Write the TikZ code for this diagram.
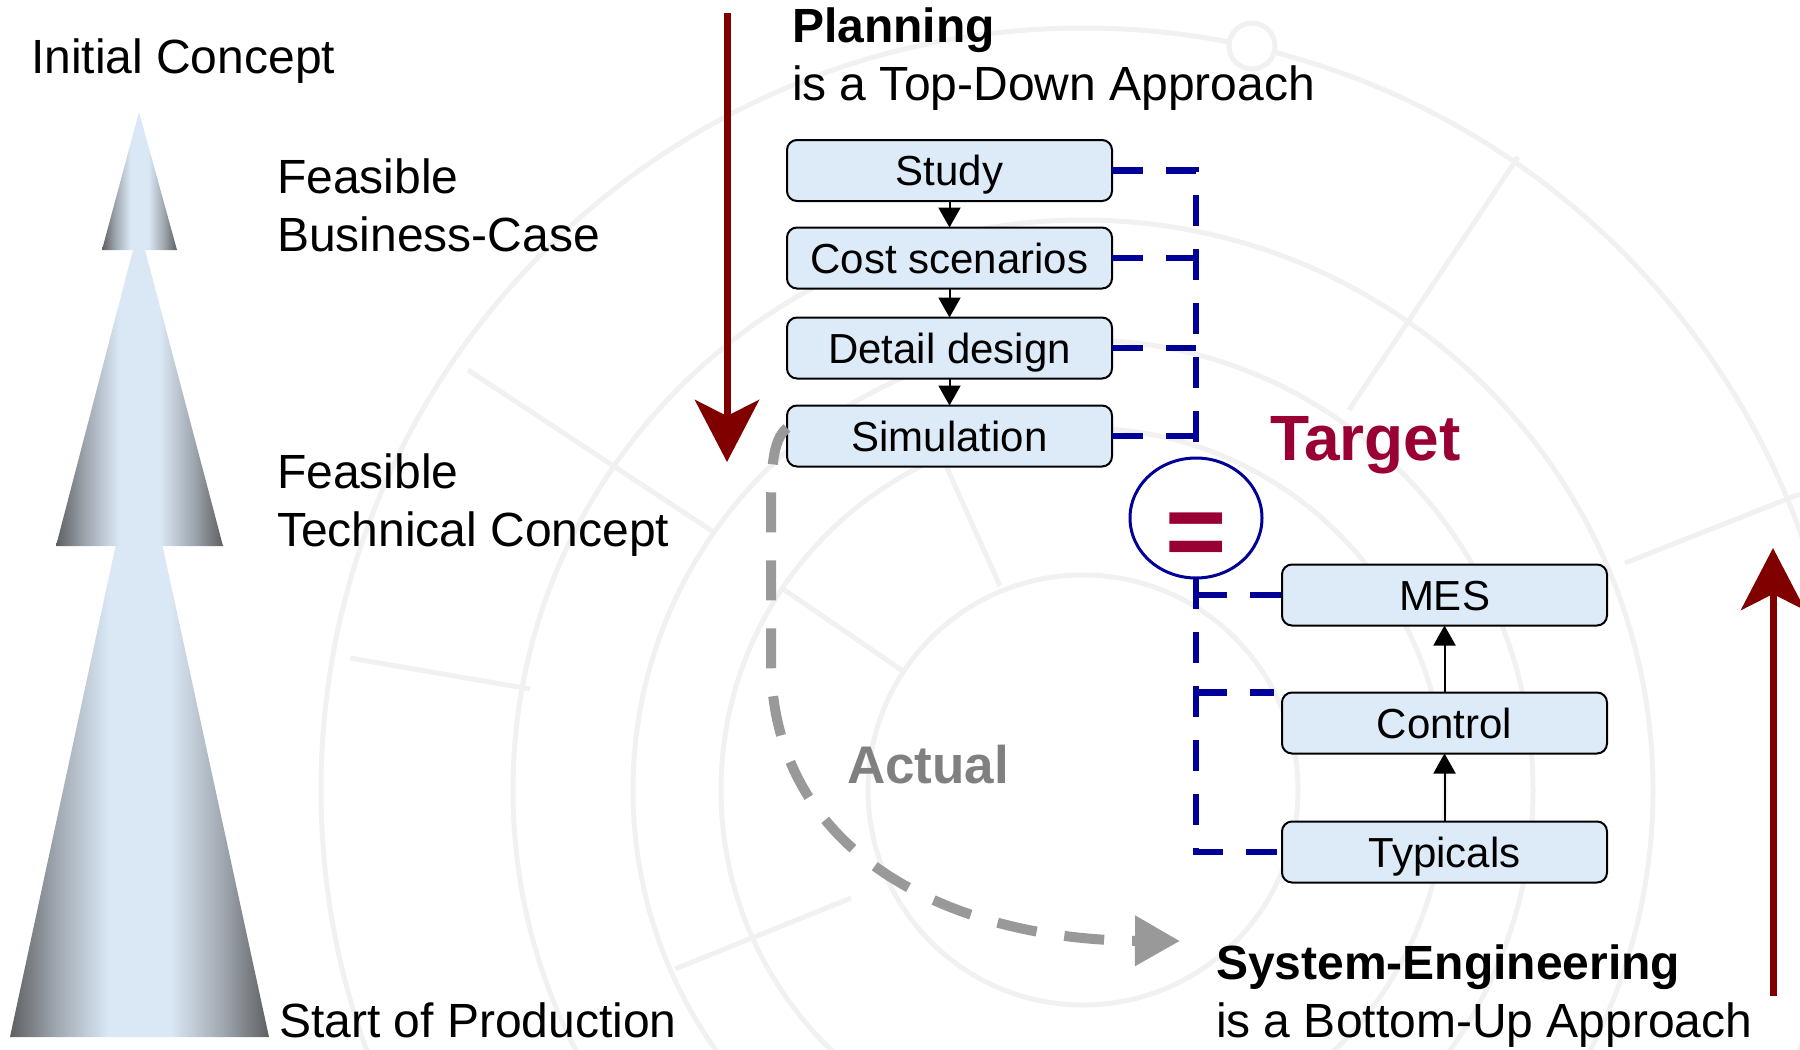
\documentclass[tikz,border=0pt]{standalone}
\usepackage{fontspec}
\setmainfont{Liberation Sans}
\usetikzlibrary{arrows.meta,shapes.geometric}
\definecolor{boxfill}{HTML}{DDEAF7}
\definecolor{navyline}{HTML}{000099}
\definecolor{darkred}{HTML}{800000}
\definecolor{targetred}{HTML}{990033}
\definecolor{actline}{HTML}{999999}
\definecolor{acttext}{HTML}{808080}
\definecolor{wmark}{HTML}{F1F1F1}
\definecolor{conedark}{HTML}{5E5F61}
\definecolor{conemid}{HTML}{A0A8B1}
\definecolor{conelight}{HTML}{DAE8F5}
\pgfdeclarehorizontalshading{conesh}{100bp}{color(0bp)=(conedark); color(25bp)=(conedark); color(34bp)=(conemid); color(44bp)=(conelight); color(56bp)=(conelight); color(66bp)=(conemid); color(75bp)=(conedark); color(100bp)=(conedark)}
\begin{document}
\begin{tikzpicture}[x=1pt,y=-1pt,
  every node/.style={inner sep=0pt, outer sep=0pt},
  lbl/.style={font=\fontsize{48}{57.5}\selectfont, align=left, anchor=base west},
  pbox/.style={draw=black, line width=2pt, fill=boxfill, rounded corners=10pt,
    minimum width=325pt, minimum height=61pt, font=\fontsize{42}{48}\selectfont,
    text height=30pt, text depth=0pt},
  bdash/.style={draw=navyline, line width=6.5pt, dash pattern=on 31pt off 23pt},
  flow/.style={-{Triangle[length=20pt,width=22pt]}, line width=2pt, draw=black},
  bigarrow/.style={-{Stealth[length=62pt,width=64pt,inset=16pt]}, line width=7pt, draw=darkred},
  actdash/.style={-{Triangle[length=45pt,width=48pt]}, line width=10pt, draw=actline, dash pattern=on 40pt off 28pt},
  wm/.style={draw=wmark, line width=5pt},
  cone/.style={shading=conesh}
]
\useasboundingbox (0,0) rectangle (1800,1050);
% faint watermark
\begin{scope}
\clip (0,0) rectangle (1800,1050);
\coordinate (wc) at (1083,790);
\foreach \r in {215,362,450,570,762}{
  \draw[wm] (wc) circle[radius=\r];
}
\draw[wm] (1518,157) -- (1349,410);
\draw[wm] (1625,563) -- (1800,494);
\draw[wm] (468,370) -- (715,533);
\draw[wm] (350,658) -- (530,689);
\draw[wm] (675,969) -- (851,898);
\draw[wm] (783,589) -- (903,671);
\draw[wm] (947,468) -- (1000,586);
\draw[wm, fill=white] (1252,46) circle[radius=23];
\end{scope}
% cone
\shade[cone] (139,437) -- (269,1037) -- (10,1037) -- cycle;
\shade[cone] (139,227) -- (223,546) -- (56,546) -- cycle;
\shade[cone] (139,112) -- (177,250) -- (102,250) -- cycle;
% left labels (base = baseline of the last line)
\node[lbl] (initial) at (31,73) {Initial Concept};
\node[lbl] (bcase) at (277,251) {Feasible\\Business-Case};
\node[lbl] (tconcept) at (277,546) {Feasible\\Technical Concept};
\node[lbl] (sop) at (279,1037) {Start of Production};
% headings
\node[lbl] (planning) at (792,100) {\textbf{Planning}\\is a Top-Down Approach};
\node[lbl] (syseng) at (1216,1037) {\textbf{System-Engineering}\\is a Bottom-Up Approach};
% big arrows
\coordinate (ptop) at (727,13);
\coordinate (pbot) at (727,462);
\draw[bigarrow] (ptop) -- (pbot);
\coordinate (ubot) at (1773,996);
\coordinate (utop) at (1773,548);
\draw[bigarrow] (ubot) -- (utop);
% actual curve
\coordinate (actend) at (1180,941);
% planning boxes
\node[pbox] (study) at (949.5,170.5) {Study};
\node[pbox] (cost) at (949.5,258) {Cost scenarios};
\node[pbox] (detail) at (949.5,348) {Detail design};
\node[pbox] (sim) at (949.5,436) {Simulation};
\draw[actdash] ([yshift=8pt]sim.west) .. controls (772,440) and (771,470) .. (771,520) -- (771,660) .. controls (771,860) and (960,940) .. (actend);
\node[font=\fontsize{53}{53}\selectfont\bfseries, text=acttext, anchor=base west] (actual) at (847,783) {Actual};
\draw[flow] (study.south) -- (cost.north);
\draw[flow] (cost.south) -- (detail.north);
\draw[flow] (detail.south) -- (sim.north);
% system boxes
\node[pbox] (mes) at (1444.5,595) {MES};
\node[pbox] (ctl) at (1444.5,723) {Control};
\node[pbox] (typ) at (1444.5,852) {Typicals};
\draw[flow] (ctl.north) -- (mes.south);
\draw[flow] (typ.north) -- (ctl.south);
% equality
\node[draw=navyline, line width=3pt, ellipse, minimum width=132pt, minimum height=120pt] (eq) at (1196,518) {};
\node[font=\fontsize{105}{105}\selectfont\bfseries, text=targetred, anchor=base] (eqsign) at (1196,567) {=};
\node[font=\fontsize{64}{64}\selectfont\bfseries, text=targetred, anchor=base west] (target) at (1270,460) {Target};
% dashed connections
\draw[bdash] (study.east) -| (eq.north);
\draw[bdash] (cost.east) -- (cost.east -| eq.north);
\draw[bdash] (detail.east) -- (detail.east -| eq.north);
\draw[bdash] (sim.east) -- (sim.east -| eq.north);
\draw[bdash] (eq.south) |- (typ.west);
\draw[bdash] (mes.west -| eq.south) -- (mes.west);
\draw[bdash] (ctl.north west -| eq.south) -- ([xshift=-8pt]ctl.north west);
\end{tikzpicture}
\end{document}
